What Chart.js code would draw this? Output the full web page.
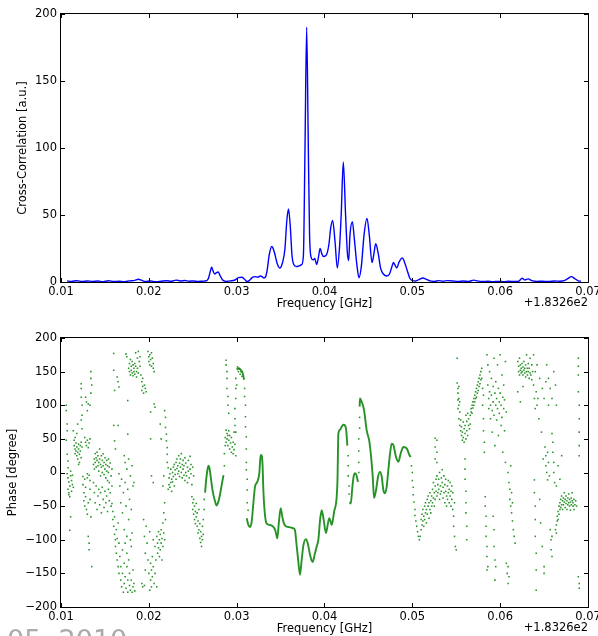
<!DOCTYPE html>
<html>
<head>
<meta charset="utf-8">
<script src="https://cdn.jsdelivr.net/npm/chart.js@4.4.1/dist/chart.umd.min.js"></script>
<style>
  html, body { margin: 0; padding: 0; background: #fff; width: 598px; height: 636px; overflow: hidden; }
  canvas { position: absolute; left: 0; }
  #corrChart { top: 0; }
  #phaseChart { top: 318px; }
  #stamp { position: absolute; left: 7px; top: 626px; font: 27px "DejaVu Sans"; line-height: 27px; color: #aaa; white-space: pre; }
</style>
</head>
<body>
<canvas id="corrChart" width="598" height="318"></canvas>
<canvas id="phaseChart" width="598" height="318"></canvas>
<div id="stamp">05  2010</div>
<script>
// x values are offsets from 183.26 GHz (shown as +1.8326e2 like matplotlib)
const offsetText = '+1.8326e2';
const freqTicks = [0.01, 0.02, 0.03, 0.04, 0.05, 0.06, 0.07];
const corrTicks = [0, 50, 100, 150, 200];
const phaseTicks = [-200, -150, -100, -50, 0, 50, 100, 150, 200];

// cross-correlation amplitude [a.u.]
const corrPoints = [
  [0.0107,0.8],[0.0112,0.5],[0.0118,0.9],[0.0124,0.4],[0.0130,0.8],[0.0136,0.5],[0.0142,0.7],[0.0148,0.3],
  [0.0154,0.9],[0.0160,0.4],[0.0166,0.6],[0.0172,0.3],[0.0178,0.8],[0.0184,1.2],[0.0188,2.0],[0.0192,1.2],
  [0.0196,0.4],[0.0202,0.7],[0.0208,0.3],[0.0214,0.6],[0.0220,0.9],[0.0226,0.6],[0.0231,1.4],[0.0236,0.8],
  [0.0241,1.1],[0.0246,0.6],[0.0251,0.8],[0.0256,0.4],[0.0261,0.6],[0.0266,1.0],
  [0.0268,3],[0.0270,8],[0.02715,11],[0.0273,8.5],[0.0275,6],[0.0277,7],[0.0279,7.5],[0.0281,5],[0.0284,1.5],
  [0.0288,0.5],[0.0293,0.8],[0.0298,1.5],[0.0302,3.2],[0.0306,3.5],[0.0309,2],[0.0312,0.3],[0.0315,1.5],
  [0.0318,3.5],[0.0321,4],[0.0324,3.6],[0.0327,4.5],[0.0329,4],[0.0331,3],[0.0333,4],[0.0335,10],[0.0337,20],
  [0.0340,26.5],[0.0343,22],[0.0346,14],[0.0349,10.5],[0.0352,14],[0.0355,25],[0.0357,45],[0.0359,54.5],
  [0.0361,42],[0.0363,20],[0.0365,13],[0.0368,11.5],[0.0371,12],[0.0374,13],[0.0376,20],[0.03778,100],
  [0.03797,190],[0.03814,110],[0.0383,35],[0.0385,18],[0.0387,16.5],[0.0389,17.5],[0.0391,13],[0.0393,18],
  [0.0395,25],[0.0397,21],[0.0399,19],[0.0402,20],[0.0405,28],[0.0407,40],[0.04093,46],[0.0412,30],
  [0.04146,10.5],[0.0417,25],[0.0419,50],[0.04214,89.5],[0.0424,50],[0.0426,22],[0.04275,16],[0.0429,35],
  [0.04317,45],[0.0434,32],[0.0437,12],[0.04393,3.2],[0.0442,12],[0.0445,35],[0.04484,47.5],[0.0451,35],
  [0.04541,14.5],[0.0456,20],[0.04583,28.5],[0.0461,22],[0.0464,10],[0.0467,6],[0.0471,4.5],[0.0474,6],
  [0.0477,12],[0.04784,14.5],[0.0480,13],[0.04822,10.5],[0.0485,15],[0.04886,18],[0.0491,15],[0.0494,9],
  [0.0497,3],[0.0500,1],[0.0504,0.8],[0.0508,2],[0.0512,3],[0.0516,2],[0.0520,0.8],[0.0525,0.5],[0.0530,1.0],
  [0.0535,0.6],[0.0540,1.0],[0.0546,0.8],[0.0552,0.4],[0.0558,0.7],[0.0564,0.5],[0.0570,1.4],[0.0574,0.8],
  [0.0580,0.4],[0.0586,0.6],[0.0592,0.3],[0.0598,0.5],[0.0604,0.3],[0.0610,0.6],[0.0616,0.4],[0.0621,0.6],
  [0.0625,2.8],[0.0628,1.5],[0.0632,2.3],[0.0636,1.0],[0.0642,0.5],[0.0648,0.6],[0.0655,0.4],[0.0662,0.7],
  [0.0668,0.6],[0.0673,1.0],[0.0677,2.5],[0.0681,4.0],[0.0685,2.5],[0.0689,0.8],[0.0692,0.6]
];

// phase [degree]: continuous stretches (dense dots in the original)
const curveNear027 = [[0.0264,-30],[0.02655,-8],[0.0267,6],[0.0268,10],[0.0269,7],[0.0271,-12],[0.0273,-30],
  [0.0275,-41],[0.0277,-49],[0.0279,-44],[0.0281,-33],[0.0283,-18],[0.0285,-4]];
const curveNear030 = [[0.0300,153],[0.03025,155],[0.0305,152],[0.03068,148],[0.03084,138]];
const curveMain = [[0.03114,-68],[0.03133,-78],[0.03152,-81],[0.03171,-73],[0.0319,-46],[0.03209,-21],
  [0.03235,-14],[0.03258,-1],[0.03273,26],[0.03285,25],[0.03295,10],[0.03304,-26],[0.0332,-60],[0.03342,-76],
  [0.0338,-78],[0.03418,-81],[0.0344,-86],[0.03463,-98],[0.0348,-75],[0.03501,-53],[0.0352,-66],[0.03539,-76],
  [0.0356,-80],[0.03588,-81],[0.0362,-82],[0.03645,-83],[0.03664,-86],[0.0368,-105],[0.0370,-130],
  [0.03721,-152],[0.0374,-130],[0.0376,-108],[0.03789,-99],[0.0381,-106],[0.0384,-125],[0.03865,-133],
  [0.0389,-121],[0.03911,-110],[0.0393,-100],[0.0395,-70],[0.03968,-56],[0.0399,-70],[0.04017,-90],
  [0.0404,-75],[0.04055,-68],[0.0407,-73],[0.04082,-78],[0.0411,-58],[0.04139,-36],[0.04148,-10],
  [0.04158,58],[0.0418,64],[0.04196,68],[0.04215,71],[0.04233,70],[0.04248,62],[0.0426,40]];
const curveNear043 = [[0.04285,-44],[0.0430,-46],[0.04315,-25],[0.04333,-5],[0.0435,-1],[0.04364,-4],[0.04381,-14]];
const curveNear045 = [[0.0440,98],[0.04404,110],[0.04423,105],[0.0445,93],[0.0448,63],[0.04511,46],[0.0453,24],
  [0.04549,-6],[0.04564,-38],[0.04587,-26],[0.0461,-6],[0.04632,1],[0.04651,-6],[0.0467,-26],[0.04689,-31],
  [0.04708,-21],[0.04727,4],[0.04746,28],[0.04765,43],[0.04784,41],[0.04814,23],[0.04841,16],[0.04867,28],
  [0.04898,38],[0.04936,36],[0.04966,26],[0.04981,23]];
const phaseCurves = [curveNear027, curveNear030, curveMain, curveNear043, curveNear045];

// phase [degree]: scattered dots
const dotsLeft = [
  [0.0106,100],[0.0106,92],[0.0107,72],[0.0107,62],[0.0106,48],[0.0107,27],[0.0108,17],[0.0108,7],[0.0107,-2],
  [0.0108,-8],[0.0109,-14],[0.0110,-20],[0.0108,-25],[0.0109,-30],[0.0111,-5],[0.0111,2],[0.0112,-12],
  [0.0113,-18],[0.0112,-28],[0.0110,-36],[0.0111,-66],[0.0110,-86],[0.0113,-4],[0.0114,-22],[0.0109,-33],
  [0.0114,62],[0.0115,48],[0.0115,40],[0.0116,35],[0.0116,28],[0.0117,44],[0.0117,32],[0.0118,25],[0.0118,38],
  [0.0119,30],[0.0119,20],[0.0120,42],[0.0120,35],[0.0121,27],[0.0121,15],[0.0122,40],[0.0122,32],[0.0123,45],
  [0.0123,22],[0.0124,38],[0.0116,52],[0.0118,58],[0.0120,12],[0.0119,72],
  [0.0123,132],[0.0123,125],[0.0123,112],[0.0124,100],[0.0124,85],[0.0123,78],[0.0124,65],
  [0.0125,-6],[0.0125,-18],[0.0126,-30],[0.0126,-42],[0.0127,-10],[0.0127,-50],[0.0128,-22],[0.0128,-36],
  [0.0129,-55],[0.0130,-8],[0.0130,-62],[0.0131,-45],[0.0131,-95],[0.0132,-105],[0.0132,-115],[0.0133,-25],
  [0.0133,-40],[0.0134,-66],[0.0135,-140],
  [0.0127,52],[0.0128,45],[0.0129,40],[0.0130,48],[0.0131,37],[0.0132,44],[0.0133,50],[0.0128,112],
  [0.0129,105],[0.0130,92],[0.0131,102],[0.0134,150],[0.0134,140],[0.0135,130],[0.0134,118],[0.0133,100],
  [0.0130,-2],[0.0132,-4],[0.0133,-12],
  [0.0137,12],[0.0138,20],[0.0138,5],[0.0139,28],[0.0139,15],[0.0140,22],[0.0140,8],[0.0141,18],[0.0141,30],
  [0.0142,10],[0.0142,25],[0.0143,15],[0.0143,2],[0.0144,20],[0.0144,35],[0.0145,12],[0.0145,-5],[0.0146,25],
  [0.0146,8],[0.0147,18],[0.0147,0],[0.0148,28],[0.0148,10],[0.0149,-3],[0.0149,15],[0.0150,22],[0.0150,5],
  [0.0151,12],[0.0151,-8],[0.0152,18],[0.0152,2],[0.0153,10],[0.0153,-12],[0.0154,20],[0.0154,0],[0.0155,8],
  [0.0155,-15],[0.0156,14],[0.0157,-5],[0.0158,5],
  [0.0137,-15],[0.0138,-30],[0.0139,-45],[0.0140,-20],[0.0141,-55],[0.0142,-35],[0.0143,-25],[0.0144,-48],
  [0.0145,-30],[0.0146,-60],[0.0147,-22],[0.0148,-40],[0.0149,-52],[0.0150,-28],[0.0151,-45],[0.0152,-35],
  [0.0153,-58],[0.0154,-25],[0.0155,-42],[0.0156,-30],[0.0157,-50],[0.0158,-20],
  [0.0160,177],[0.0160,152],[0.0161,122],[0.0160,70],[0.0161,47],[0.0162,35],[0.0164,142],[0.0165,135],
  [0.0166,127],[0.0165,70],[0.0166,-2],
  [0.0158,-46],[0.0159,-58],[0.0159,-70],[0.0160,-80],[0.0161,-66],[0.0161,-92],[0.0162,-100],[0.0162,-110],
  [0.0163,-85],[0.0163,-120],[0.0164,-98],[0.0165,-75],[0.0164,-130],[0.0165,-140],[0.0166,-105],[0.0166,-150],
  [0.0167,-125],[0.0168,-160],[0.0168,-140],[0.0169,-170],[0.0170,-115],[0.0170,-150],[0.0171,-178],
  [0.0172,-135],[0.0172,-165],[0.0173,-105],[0.0173,-155],[0.0174,-172],[0.0175,-140],[0.0175,-120],
  [0.0176,-160],[0.0176,-178],[0.0177,-130],[0.0178,-168],[0.0178,-150],[0.0179,-175],[0.0180,-110],
  [0.0180,-160],[0.0181,-178],[0.0182,-170],[0.0182,-145],[0.0183,-165],[0.0184,-176],
  [0.0167,-20],[0.0168,-45],[0.0169,-10],[0.0170,-60],[0.0171,-30],[0.0172,-85],[0.0173,-15],[0.0174,-50],
  [0.0175,-95],[0.0176,-25],[0.0177,-70],[0.0178,-40],[0.0179,-100],[0.0180,-55],[0.0181,-90],[0.0182,-20],
  [0.0172,25],[0.0173,15],[0.0175,5],[0.0177,20],[0.0179,-5],[0.0181,10],[0.0183,-15],
  [0.0174,176],[0.0175,172],[0.0176,107],[0.0176,57],[0.0177,155],[0.0178,162],[0.0178,150],[0.0179,168],
  [0.0179,145],[0.0180,158],[0.0180,152],[0.0181,165],[0.0181,148],[0.0182,160],[0.0182,144],[0.0183,155],
  [0.0183,150],[0.0184,162],[0.0184,146],[0.0185,178],[0.0185,158],[0.0186,150],[0.0186,142],[0.0187,170],
  [0.0187,155],[0.0188,180],[0.0188,148],[0.0189,165],[0.0190,172],[0.0190,158],[0.0191,145],[0.0192,135],
  [0.0192,122],[0.0193,140],[0.0193,128],[0.0194,118],[0.0195,130],[0.0196,125],[0.0197,120],
  [0.0199,180],[0.0200,172],[0.0200,165],[0.0201,160],[0.0201,175],[0.0202,168],[0.0203,158],[0.0203,178],
  [0.0204,170],[0.0205,162],[0.0205,155],[0.0206,150],[0.0202,90],[0.0202,50],[0.0206,102],[0.0207,97],
  [0.0203,-5],[0.0205,-15],
  [0.0192,-165],[0.0193,-170],[0.0195,-168],[0.0194,-70],[0.0195,-95],[0.0196,-120],[0.0196,-145],[0.0197,-80],
  [0.0198,-105],[0.0199,-130],[0.0200,-150],[0.0201,-88],[0.0201,-175],[0.0202,-160],[0.0202,-135],
  [0.0203,-145],[0.0203,-170],[0.0204,-155],[0.0204,-125],[0.0205,-100],[0.0205,-140],[0.0206,-165],
  [0.0207,-150],[0.0207,-110],[0.0208,-130],[0.0209,-170],
  [0.0209,-95],[0.0210,-105],[0.0210,-120],[0.0211,-88],[0.0211,-112],[0.0212,-100],[0.0212,-125],[0.0213,-92],
  [0.0213,-115],[0.0214,-105],[0.0214,-85],[0.0215,-98],[0.0215,-130],[0.0216,-110],[0.0216,-75],[0.0217,-90],
  [0.0217,-60],[0.0218,-45],[0.0218,-100],[0.0219,-70],[0.0216,-20],[0.0217,-5],[0.0213,72],[0.0214,50],
  [0.0218,92],[0.0219,82],[0.0219,67],[0.0220,57],[0.0220,47],[0.0221,37],[0.0221,27],[0.0221,15],[0.0222,7],
  [0.0222,-25],[0.0223,-18],[0.0223,-8],[0.0224,-22],[0.0224,-2],[0.0225,-15],[0.0225,5],[0.0226,-10],
  [0.0226,-28],[0.0227,0],[0.0227,-14],[0.0228,8],[0.0228,-6],[0.0229,-20],[0.0229,12],[0.0230,-3],[0.0230,4],
  [0.0231,15],[0.0231,-10],[0.0232,6],[0.0232,20],[0.0233,-2],[0.0233,10],[0.0234,25],[0.0234,2],[0.0235,14],
  [0.0235,-6],[0.0236,20],[0.0236,8],[0.0237,28],[0.0237,0],[0.0238,12],[0.0238,-8],[0.0239,18],[0.0239,5],
  [0.0240,-4],[0.0240,10],[0.0241,22],[0.0241,-12],[0.0242,0],[0.0242,14],[0.0243,-5],[0.0244,8],[0.0244,-15],
  [0.0245,18],[0.0245,2],[0.0246,-8],[0.0247,24],[0.0247,5],[0.0248,-2],[0.0248,12],[0.0249,-18],[0.0250,8],
  [0.0251,-5],
  [0.0249,-36],[0.0250,-45],[0.0250,-55],[0.0251,-40],[0.0251,-62],[0.0252,-50],[0.0252,-70],[0.0253,-58],
  [0.0253,-76],[0.0254,-46],[0.0254,-66],[0.0255,-80],[0.0255,-60],[0.0256,-72],[0.0256,-90],[0.0257,-55],
  [0.0257,-85],[0.0258,-98],[0.0258,-76],[0.0259,-104],[0.0259,-88],[0.0260,-110],[0.0260,-95],[0.0261,-100],
  [0.0261,-80],[0.0262,-92],[0.0262,-70],[0.0263,-55],[0.0263,-40]
];

const dotsMiddle = [
  [0.0286,10],[0.0286,28],[0.0287,40],[0.0287,52],[0.0288,63],[0.0288,45],[0.0289,58],[0.0289,50],[0.0290,55],
  [0.0290,40],[0.0291,62],[0.0291,48],[0.0292,35],[0.0292,55],[0.0293,44],[0.0294,30],[0.0294,52],[0.0295,38],
  [0.0296,28],[0.0296,45],[0.0297,34],[0.0297,60],[0.0298,42],[0.0299,25],
  [0.0288,167],[0.0288,160],[0.0289,150],[0.0289,140],[0.0289,125],[0.0290,113],[0.0290,100],[0.0291,88],
  [0.0298,80],[0.0298,95],[0.0299,110],[0.0299,125],[0.0299,140],[0.0299,60],[0.0298,70],[0.0300,130],
  [0.0301,157],[0.0302,150],[0.0303,154],[0.0304,146],[0.0305,150],[0.0306,143],
  [0.0309,125],[0.0309,113],[0.0310,100],[0.0310,83],[0.0310,68],[0.0311,53],[0.0311,35],[0.0311,15],
  [0.0311,4],[0.0312,-10],[0.0312,-26],[0.0312,-45],[0.0313,-56],
  [0.0427,25],[0.0427,10],[0.0427,-5],[0.0428,-20],[0.0428,-32],
  [0.0439,0],[0.0439,15],[0.0439,32],[0.0439,50],[0.0440,66],[0.0440,82],
  [0.0499,10],[0.0500,0],[0.0500,-12],[0.0501,-22],[0.0501,-33],[0.0502,-44],[0.0503,-55],[0.0503,-64],
  [0.0504,-72],[0.0505,-80],[0.0506,-88],[0.0507,-95],[0.0508,-100]
];

const dotsRight = [
  [0.0509,-95],[0.0510,-85],[0.0510,-70],[0.0511,-78],[0.0511,-62],[0.0512,-72],[0.0512,-55],[0.0513,-80],
  [0.0513,-65],[0.0514,-50],[0.0514,-70],[0.0515,-60],[0.0515,-45],[0.0516,-75],[0.0516,-55],[0.0517,-40],
  [0.0517,-62],[0.0518,-50],[0.0518,-35],[0.0519,-68],[0.0519,-45],[0.0520,-55],[0.0520,-30],[0.0521,-42],
  [0.0521,-60],[0.0522,-35],[0.0522,-50],[0.0523,-25],[0.0523,-45],[0.0524,-38],[0.0524,-15],[0.0525,-30],
  [0.0525,-50],[0.0526,-20],[0.0526,51],[0.0526,38],[0.0526,20],[0.0526,-40],[0.0527,-10],[0.0527,-28],
  [0.0528,-35],[0.0528,-5],[0.0528,48],[0.0528,30],[0.0528,15],[0.0529,-18],[0.0529,-30],[0.0530,-10],
  [0.0530,-25],[0.0531,-40],[0.0531,0],[0.0532,-20],[0.0532,-32],[0.0533,-8],[0.0533,-28],[0.0534,4],
  [0.0534,-15],[0.0535,-38],[0.0535,-22],[0.0536,-5],[0.0536,-30],[0.0537,-45],[0.0537,-18],[0.0538,-28],
  [0.0538,-10],[0.0539,-35],[0.0539,-50],[0.0540,-20],[0.0540,-40],[0.0541,-30],[0.0541,-12],[0.0542,-25],
  [0.0542,-45],[0.0543,-35],[0.0543,-15],[0.0544,-28],[0.0544,-50],[0.0545,-20],[0.0545,-40],[0.0546,-55],
  [0.0546,-30],[0.0547,-65],[0.0547,-80],[0.0548,-95],[0.0548,-45],[0.0549,-110],[0.0550,-115],
  [0.0551,170],[0.0551,133],[0.0552,125],[0.0552,118],[0.0553,110],[0.0553,100],[0.0552,95],[0.0554,105],
  [0.0554,90],[0.0553,128],[0.0552,108],
  [0.0553,80],[0.0554,70],[0.0555,62],[0.0555,78],[0.0556,55],[0.0556,68],[0.0557,48],[0.0557,60],[0.0558,75],
  [0.0558,52],[0.0559,65],[0.0559,45],[0.0560,58],[0.0560,70],[0.0561,50],[0.0561,85],[0.0562,62],[0.0562,76],
  [0.0563,55],[0.0563,88],[0.0564,70],[0.0564,80],[0.0565,65],[0.0566,85],[0.0566,72],[0.0567,90],
  [0.0560,20],[0.0560,5],[0.0560,-10],[0.0561,-28],[0.0561,-45],[0.0561,-60],[0.0562,-80],[0.0562,-100],
  [0.0567,95],[0.0568,100],[0.0568,88],[0.0569,105],[0.0569,96],[0.0570,110],[0.0570,100],[0.0571,115],
  [0.0571,105],[0.0572,120],[0.0572,110],[0.0573,112],[0.0573,125],[0.0574,118],[0.0574,130],[0.0575,122],
  [0.0575,135],[0.0576,128],[0.0576,140],[0.0577,132],[0.0577,145],[0.0578,138],[0.0578,150],[0.0579,140],
  [0.0579,155],[0.0580,125],[0.0580,100],[0.0581,80],[0.0581,62],[0.0582,45],[0.0582,30],[0.0581,115],
  [0.0583,-36],[0.0583,-50],[0.0584,-65],[0.0584,-80],[0.0584,-95],[0.0585,-110],[0.0585,-125],[0.0585,-145],
  [0.0586,-140],
  [0.0585,175],[0.0586,160],[0.0586,130],[0.0587,110],[0.0587,95],[0.0588,150],[0.0588,120],[0.0589,100],
  [0.0589,80],[0.0590,140],[0.0590,115],[0.0591,92],[0.0591,60],[0.0592,128],[0.0592,105],[0.0593,170],
  [0.0593,85],[0.0594,118],[0.0594,40],[0.0595,100],[0.0595,135],[0.0596,78],[0.0596,110],[0.0597,160],
  [0.0597,95],[0.0598,125],[0.0598,55],[0.0599,105],[0.0599,88],[0.0600,175],[0.0600,118],[0.0601,70],
  [0.0601,100],[0.0602,145],[0.0602,82],[0.0603,112],[0.0603,30],[0.0604,95],[0.0604,130],[0.0605,62],
  [0.0605,108],[0.0606,165],[0.0606,15],[0.0607,90],
  [0.0592,-65],[0.0593,-85],[0.0593,-110],[0.0594,-130],[0.0594,-160],[0.0595,-140],
  [0.0607,-135],[0.0608,-150],[0.0609,-165],[0.0610,-155],[0.0609,-140],
  [0.0609,0],[0.0610,-15],[0.0611,-25],[0.0611,-40],[0.0612,-50],[0.0613,-60],[0.0614,-72],[0.0614,-45],
  [0.0615,-85],[0.0616,-95],[0.0617,-105],[0.0612,10],[0.0613,-30],
  [0.0620,165],[0.0621,150],[0.0621,158],[0.0622,145],[0.0622,170],[0.0623,152],[0.0623,160],[0.0624,148],
  [0.0624,155],[0.0625,162],[0.0625,150],[0.0626,145],[0.0626,157],[0.0627,152],[0.0627,165],[0.0628,148],
  [0.0628,155],[0.0629,160],[0.0629,142],[0.0630,150],[0.0630,175],[0.0631,155],[0.0631,145],[0.0632,162],
  [0.0632,150],[0.0633,140],[0.0633,155],[0.0634,148],[0.0634,170],[0.0635,145],[0.0636,160],[0.0636,138],
  [0.0637,150],
  [0.0638,175],[0.0638,130],[0.0639,110],[0.0640,150],[0.0640,95],[0.0641,120],[0.0642,160],[0.0642,100],
  [0.0620,120],[0.0623,105],[0.0626,128],[0.0645,140],[0.0648,125],[0.0650,110],[0.0652,135],[0.0655,100],
  [0.0639,-11],[0.0639,-30],[0.0640,-50],[0.0640,-70],[0.0640,-95],[0.0641,-120],[0.0641,-145],[0.0641,-175],
  [0.0643,110],[0.0644,80],[0.0645,-40],[0.0646,-75],[0.0647,60],[0.0648,-110],[0.0649,20],[0.0650,-140],
  [0.0651,38],[0.0652,25],[0.0652,10],[0.0653,0],[0.0654,-11],[0.0654,30],[0.0655,15],[0.0656,-5],[0.0650,-150],
  [0.0657,-85],[0.0658,-100],[0.0658,-115],[0.0659,-125],[0.0659,-95],
  [0.0659,58],[0.0660,45],[0.0660,30],[0.0661,15],[0.0661,0],[0.0662,-15],
  [0.0653,160],[0.0655,140],[0.0657,125],[0.0659,110],[0.0661,150],[0.0663,130],[0.0664,100],
  [0.0663,-85],[0.0664,-78],[0.0664,-90],[0.0665,-72],[0.0665,-65],[0.0666,-70],[0.0666,-58],[0.0667,-62],
  [0.0667,-50],[0.0668,-55],[0.0668,-45],[0.0669,-52],[0.0669,-40],[0.0670,-48],[0.0670,-35],[0.0671,-42],
  [0.0671,-55],[0.0672,-38],[0.0672,-48],[0.0673,-44],[0.0673,-30],[0.0674,-40],[0.0674,-52],[0.0675,-35],
  [0.0675,-46],[0.0676,-42],[0.0676,-55],[0.0677,-38],[0.0677,-48],[0.0678,-45],[0.0678,-32],[0.0679,-50],
  [0.0679,-40],[0.0680,-44],[0.0680,-56],[0.0681,-38],[0.0681,-48],[0.0682,-42],[0.0682,-30],[0.0683,-50],
  [0.0683,-45],[0.0684,-40],[0.0684,-55],[0.0685,-48],[0.0686,-42],[0.0687,-50],
  [0.0664,-20],[0.0666,10],[0.0668,-10],[0.0670,25],
  [0.0689,170],[0.0689,158],[0.0689,145],[0.0689,120],[0.0690,100],[0.0690,80],[0.0690,60],[0.0690,40],
  [0.0690,25],[0.0689,-155],[0.0690,-165],[0.0690,-172]
];

Chart.defaults.font.family = '"DejaVu Sans", sans-serif';
Chart.defaults.font.size = 11.5;
Chart.defaults.color = '#000';

const toXY = pts => pts.map(p => ({x: p[0], y: p[1]}));

// matplotlib-like box with inward ticks on all four sides, plus the offset text
const axisFrame = {
  id: 'axisFrame',
  afterDatasetsDraw(chart) {
    const {ctx, chartArea: a, scales} = chart;
    ctx.save();
    ctx.strokeStyle = '#000';
    ctx.lineWidth = 1;
    ctx.strokeRect(a.left - 0.5, a.top - 0.5, a.right - a.left + 1, a.bottom - a.top + 1);
    ctx.beginPath();
    scales.x.ticks.forEach(t => {
      const px = Math.round(scales.x.getPixelForValue(t.value)) + 0.5;
      ctx.moveTo(px, a.bottom); ctx.lineTo(px, a.bottom - 4);
      ctx.moveTo(px, a.top); ctx.lineTo(px, a.top + 4);
    });
    scales.y.ticks.forEach(t => {
      const py = Math.round(scales.y.getPixelForValue(t.value)) + 0.5;
      ctx.moveTo(a.left, py); ctx.lineTo(a.left + 4, py);
      ctx.moveTo(a.right, py); ctx.lineTo(a.right - 4, py);
    });
    ctx.stroke();
    ctx.fillStyle = '#000';
    ctx.font = '11.5px "DejaVu Sans"';
    ctx.textAlign = 'right';
    ctx.textBaseline = 'middle';
    ctx.fillText(offsetText, a.right, a.bottom + 21);
    ctx.restore();
  }
};

function freqAxis(xHeight, titlePad) {
  return {
    type: 'linear', min: 0.01, max: 0.07,
    afterBuildTicks: s => { s.ticks = freqTicks.map(v => ({value: v})); },
    ticks: { padding: 3, autoSkip: false, maxRotation: 0, callback: v => v.toFixed(2) },
    grid: { display: false, drawTicks: false },
    border: { display: false },
    title: { display: true, text: 'Frequency [GHz]', padding: {top: 0, bottom: titlePad} },
    afterFit: s => { s.height = xHeight; s.paddingLeft = 0; s.paddingRight = 0; }
  };
}

function valueAxis(min, max, tickList, title, titlePad) {
  return {
    min: min, max: max,
    afterBuildTicks: s => { s.ticks = tickList.map(v => ({value: v})); },
    ticks: { padding: 4, autoSkip: false, callback: v => v < 0 ? '\u2212' + Math.abs(v) : String(v) },
    grid: { display: false, drawTicks: false },
    border: { display: false },
    title: { display: true, text: title, padding: {top: titlePad, bottom: 0} },
    afterFit: s => { s.width = 61; s.paddingTop = 0; s.paddingBottom = 0; }
  };
}

const baseOptions = {
  responsive: false,
  animation: false,
  plugins: { legend: { display: false }, tooltip: { enabled: false } }
};

new Chart(document.getElementById('corrChart'), {
  type: 'scatter',
  data: {
    datasets: [{
      data: toXY(corrPoints),
      showLine: true,
      borderColor: '#0000ff',
      borderWidth: 1.4,
      pointRadius: 0,
      cubicInterpolationMode: 'monotone'
    }]
  },
  options: Object.assign({}, baseOptions, {
    layout: { padding: { top: 14, right: 10, left: 0, bottom: 0 } },
    scales: {
      x: freqAxis(36, 7),
      y: valueAxis(0, 200, corrTicks, 'Cross-Correlation [a.u.]', 16)
    }
  }),
  plugins: [axisFrame]
});

const green = 'rgba(0,128,0,0.85)';
const phaseSets = phaseCurves.map(seg => ({
  data: toXY(seg),
  showLine: true,
  borderColor: green,
  borderWidth: 1.9,
  pointRadius: 0,
  cubicInterpolationMode: 'monotone'
}));
phaseSets.push({
  data: toXY(dotsLeft.concat(dotsMiddle, dotsRight)),
  pointStyle: 'rect',
  pointRadius: 1.1,
  backgroundColor: green,
  borderWidth: 0
});

new Chart(document.getElementById('phaseChart'), {
  type: 'scatter',
  data: { datasets: phaseSets },
  options: Object.assign({}, baseOptions, {
    layout: { padding: { top: 20, right: 10, left: 0, bottom: 0 } },
    scales: {
      x: freqAxis(29, 0),
      y: valueAxis(-200, 200, phaseTicks, 'Phase [degree]', 6)
    }
  }),
  plugins: [axisFrame]
});
</script>
</body>
</html>
